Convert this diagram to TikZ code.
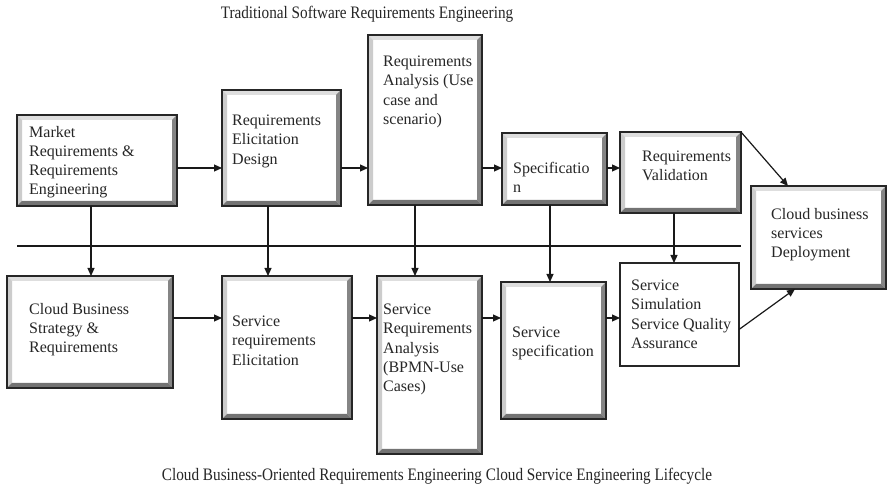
\documentclass[tikz,border=0pt]{standalone}
\usepackage{fontspec}
\setmainfont{Liberation Serif}
\newfontfamily\condfont[FakeStretch=0.87]{Liberation Serif}
\usetikzlibrary{arrows.meta,calc}
\newcommand{\boxfont}{\fontsize{16}{19.2}\selectfont}
\newcommand{\titlefont}{\condfont\fontsize{17.5}{20}\selectfont}
\tikzset{
  bev/.style={draw=black!85, line width=1.4pt, fill=white, inner sep=0pt, outer sep=0pt, anchor=north west,
    path picture={
      \fill[black!13] (path picture bounding box.north west) -- (path picture bounding box.north east)
        -- ([shift={(-5pt,-5pt)}]path picture bounding box.north east) -- ([shift={(5pt,-5pt)}]path picture bounding box.north west) -- cycle;
      \fill[black!20] (path picture bounding box.north west) -- (path picture bounding box.south west)
        -- ([shift={(5pt,5pt)}]path picture bounding box.south west) -- ([shift={(5pt,-5pt)}]path picture bounding box.north west) -- cycle;
      \fill[black!48] (path picture bounding box.south east) -- (path picture bounding box.north east)
        -- ([shift={(-5pt,-5pt)}]path picture bounding box.north east) -- ([shift={(-5pt,5pt)}]path picture bounding box.south east) -- cycle;
      \fill[black!55] (path picture bounding box.south west) -- (path picture bounding box.south east)
        -- ([shift={(-5pt,5pt)}]path picture bounding box.south east) -- ([shift={(5pt,5pt)}]path picture bounding box.south west) -- cycle;
    }},
  plainbox/.style={draw=black!85, line width=1.1pt, fill=white, inner sep=0pt, outer sep=0pt, anchor=north west},
  txt/.style={anchor=north west, align=left, inner sep=0pt, font=\boxfont, text=black!85},
  ttl/.style={anchor=base, inner sep=0pt, font=\titlefont, text=black!85},
  arr/.style={draw=black!90, line width=1.2pt, -{Triangle[length=8pt,width=7pt]}},
  sep/.style={draw=black!90, line width=1.2pt}
}
\begin{document}
\begin{tikzpicture}[x=1pt,y=-1pt]
\useasboundingbox[fill=white] (0,0) rectangle (887,486);

% titles
\node[ttl] (t1) at (367,19) {Traditional Software Requirements Engineering};
\node[ttl] (t2) at (437,480) {Cloud Business-Oriented Requirements Engineering Cloud Service Engineering Lifecycle};

% top row
\node[bev, minimum width=160pt, minimum height=91pt] (mre) at (17,115) {};
\node[bev, minimum width=119pt, minimum height=116pt] (red) at (222,90) {};
\node[bev, minimum width=114pt, minimum height=170pt] (ra) at (368,35) {};
\node[bev, minimum width=105pt, minimum height=72pt] (spec) at (502,133) {};
\node[bev, minimum width=121pt, minimum height=81pt] (rv) at (620,132) {};
\node[bev, minimum width=135pt, minimum height=103pt] (dep) at (751,186) {};

% bottom row
\node[bev, minimum width=166pt, minimum height=112pt] (cbs) at (7,276) {};
\node[bev, minimum width=130pt, minimum height=143pt] (sre) at (222,276) {};
\node[bev, minimum width=105pt, minimum height=178pt] (sra) at (377,276) {};
\node[bev, minimum width=105pt, minimum height=137pt] (ss) at (501,282) {};
\node[plainbox, minimum width=119pt, minimum height=103pt] (sim) at (620,263) {};

% texts
\node[txt] (tmre) at (29,126) {Market\\Requirements \&\\Requirements\\Engineering};
\node[txt] (tred) at (232,115) {Requirements\\Elicitation\\Design};
\node[txt] (tra) at (383,56) {Requirements\\Analysis (Use\\case and\\scenario)};
\node[txt] (tspec) at (513,162) {Specificatio\\n};
\node[txt] (trv) at (642,151) {Requirements\\Validation};
\node[txt] (tdep) at (771,208) {Cloud business\\services\\Deployment};
\node[txt] (tcbs) at (29,303) {Cloud Business\\Strategy \&\\Requirements};
\node[txt] (tsre) at (232,316) {Service\\requirements\\Elicitation};
\node[txt] (tsra) at (383,304) {Service\\Requirements\\Analysis\\(BPMN-Use\\Cases)};
\node[txt] (tss) at (512,327) {Service\\specification};
\node[txt] (tsim) at (631,280) {Service\\Simulation\\Service Quality\\Assurance};

% separator line
\coordinate (h1) at (17,246);
\coordinate (h2) at (741,246);
\draw[sep] (h1) -- (h2);

% helper coordinates
\coordinate (ty) at (0,168);
\coordinate (by) at (0,318);
\coordinate (v1) at (91,0);
\coordinate (v2) at (268,0);
\coordinate (v3) at (415,0);
\coordinate (v4) at (550,0);
\coordinate (v5) at (674,0);

% top horizontal arrows
\draw[arr] (mre.east |- ty) -- (red.west |- ty);
\draw[arr] (red.east |- ty) -- (ra.west |- ty);
\draw[arr] (ra.east |- ty) -- (spec.west |- ty);
\draw[arr] (spec.east |- ty) -- (rv.west |- ty);

% bottom horizontal arrows
\draw[arr] (cbs.east |- by) -- (sre.west |- by);
\draw[arr] (sre.east |- by) -- (sra.west |- by);
\draw[arr] (sra.east |- by) -- (ss.west |- by);
\draw[arr] (ss.east |- by) -- (sim.west |- by);

% vertical arrows
\draw[arr] (mre.south -| v1) -- (cbs.north -| v1);
\draw[arr] (red.south -| v2) -- (sre.north -| v2);
\draw[arr] (ra.south -| v3) -- (sra.north -| v3);
\draw[arr] (spec.south -| v4) -- (ss.north -| v4);
\draw[arr] (rv.south -| v5) -- (sim.north -| v5);

% to deployment
\draw[arr] (rv.north east) -- ($(dep.north west)+(37pt,0pt)$);
\draw[arr] ([yshift=-15pt]sim.east) -- ($(dep.south west)+(44pt,0pt)$);
\end{tikzpicture}
\end{document}
